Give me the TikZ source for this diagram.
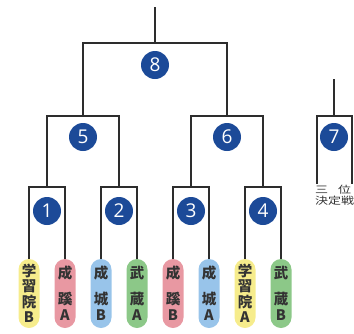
\documentclass[tikz,border=0pt]{standalone}
\usepackage{fontspec}
\newfontfamily\jpfont{Noto Sans CJK JP}
\newfontfamily\thirdfont{Noto Sans CJK JP}[FakeStretch=1.3]
\newfontfamily\numfont{Open Sans}
\usepackage{tikz}
\usepackage{xcolor}
\definecolor{numblue}{RGB}{28, 74, 152}
\definecolor{gakuyellow}{RGB}{246, 236, 140}
\definecolor{seikeipink}{RGB}{232, 152, 162}
\definecolor{seijoblue}{RGB}{152, 196, 234}
\definecolor{musashigreen}{RGB}{140, 200, 136}
\definecolor{linegray}{RGB}{45, 45, 45}

\begin{document}
\begin{tikzpicture}[
    x=1pt, y=-1pt,
    line/.style={draw=linegray, line width=1.8pt},
    num/.style={circle, fill=numblue, text=white, minimum size=28pt, inner sep=0pt,
                font=\numfont\fontsize{19}{19}\selectfont},
    team/.style={rounded corners=10.5pt, minimum width=21pt, minimum height=69pt,
                 inner sep=0pt, align=center, text=black!80,
                 font=\jpfont\bfseries\fontsize{14.5}{15.5}\selectfont},
  ]
    \useasboundingbox (0,0) rectangle (354,333);

    % Teams
    \node[team, fill=gakuyellow] (gakuB) at (29,293.5) {学\\習\\院\\B};
    \node[team, fill=seikeipink] (seikeiA) at (65,293.5) {成\\[10pt]蹊\\[1pt]A};
    \node[team, fill=seijoblue] (seijoB) at (101,293.5) {成\\[10pt]城\\[1pt]B};
    \node[team, fill=musashigreen] (musashiA) at (137,293.5) {武\\[10pt]蔵\\[1pt]A};
    \node[team, fill=seikeipink] (seikeiB) at (173,293.5) {成\\[10pt]蹊\\[1pt]B};
    \node[team, fill=seijoblue] (seijoA) at (209,293.5) {成\\[10pt]城\\[1pt]A};
    \node[team, fill=gakuyellow] (gakuA) at (245,293.5) {学\\習\\院\\A};
    \node[team, fill=musashigreen] (musashiB) at (281,293.5) {武\\[10pt]蔵\\[1pt]B};

    % Joints
    \coordinate (j1) at (47,187);
    \coordinate (j2) at (119,187);
    \coordinate (j3) at (191,187);
    \coordinate (j4) at (263,187);
    \coordinate (j5) at (83,116);
    \coordinate (j6) at (227,116);
    \coordinate (j8) at (155,43);
    \coordinate (top) at (155,7);

    % First round
    \draw[line] (gakuB.north) |- (j1) -| (seikeiA.north);
    \draw[line] (seijoB.north) |- (j2) -| (musashiA.north);
    \draw[line] (seikeiB.north) |- (j3) -| (seijoA.north);
    \draw[line] (gakuA.north) |- (j4) -| (musashiB.north);

    % Semifinals and final
    \draw[line] (j1) |- (j5) -| (j2);
    \draw[line] (j3) |- (j6) -| (j4);
    \draw[line] (j5) |- (j8) -| (j6);
    \draw[line] (j8) -- (top);

    % Third place
    \coordinate (j7) at (334,116);
    \coordinate (top7) at (334,79);
    \coordinate (l7) at (317,184);
    \coordinate (r7) at (352,184);
    \draw[line] (l7) |- (j7) -| (r7);
    \draw[line] (j7) -- (top7);
    \node[anchor=north west, inner sep=0pt, align=left, text=black!80,
          font=\thirdfont\fontsize{10}{10.5}\selectfont] (third) at (315,185) {三\hspace{1em}位\\決定戦};

    % Match numbers
    \node[num] (n1) at (47,211) {1};
    \node[num] (n2) at (119,211) {2};
    \node[num] (n3) at (191,211) {3};
    \node[num] (n4) at (263,211) {4};
    \node[num] (n5) at (83,137) {5};
    \node[num] (n6) at (227,137) {6};
    \node[num] (n7) at (334,137) {7};
    \node[num] (n8) at (155,65) {8};
\end{tikzpicture}
\end{document}
